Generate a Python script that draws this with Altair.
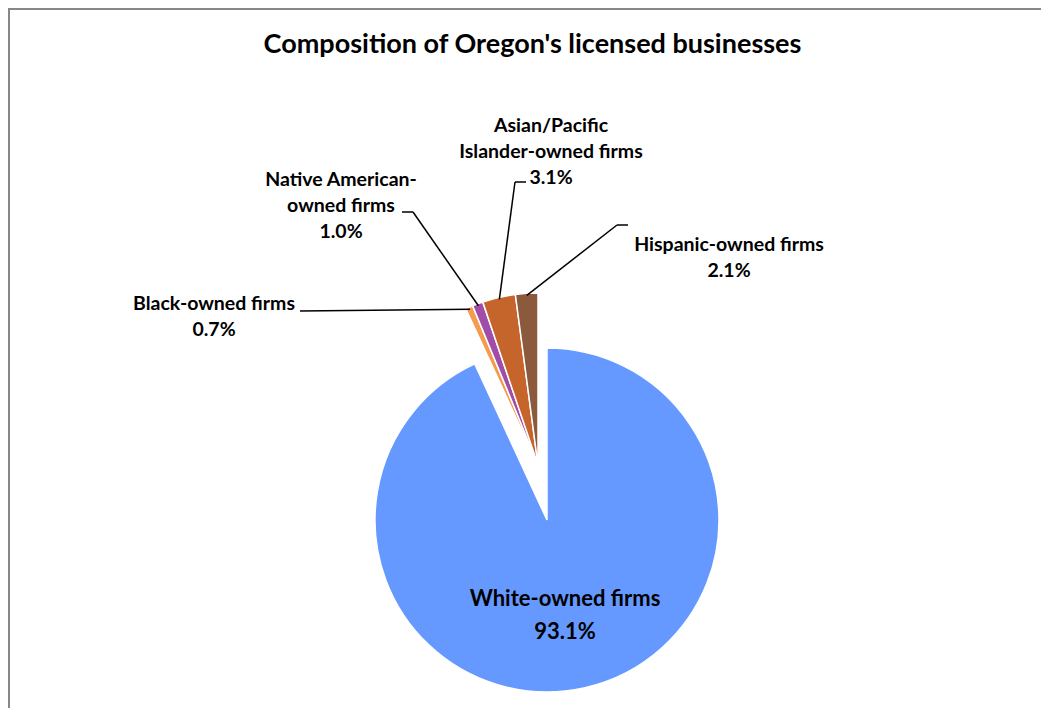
import math
import altair as alt
import pandas as pd

# ---- data ----
categories = [
    "White-owned firms",
    "Black-owned firms",
    "Native American-owned firms",
    "Asian/Pacific Islander-owned firms",
    "Hispanic-owned firms",
]
shares = [93.1, 0.7, 1.0, 3.1, 2.1]
label_lines = [
    "White-owned firms",
    "Black-owned firms",
    "Native American-\nowned firms",
    "Asian/Pacific\nIslander-owned firms",
    "Hispanic-owned firms",
]
exploded = [0, 1, 1, 1, 1]

# ---- style / layout ----
colors = ["#6699FF", "#F59B4F", "#A04CA8", "#C5652B", "#8B5A3C"]
W, H = 1033, 700
PIE_R = 172
CENTER_MAIN = (539, 512)
CENTER_EXPLODED = (530, 457)
LEADER_R = 170
label_x = [557, 206, 333, 543, 721]
label_y = [591, 296, 172, 118, 237]
anchor_x = [0, 292, 394, 518, 620]
anchor_y = [0, 303, 204, 174, 217]
elbow_x = [0, 292, 405, 507, 609]
elbow_y = [0, 303, 204, 174, 217]
FONT = "Lato"

df = pd.DataFrame({
    "category": categories,
    "share": shares,
    "idx": list(range(len(categories))),
    "label": label_lines,
    "exploded": exploded,
    "lx": label_x, "ly": label_y,
    "ax": anchor_x, "ay": anchor_y,
    "bx": elbow_x, "by": elbow_y,
})

base = (
    alt.Chart(df)
    .transform_stack(stack="share", as_=["s0", "s1"], groupby=[],
                     sort=[alt.SortField(field="idx", order="ascending")])
    .transform_calculate(
        cx=f"datum.exploded ? {CENTER_EXPLODED[0]} : {CENTER_MAIN[0]}",
        cy=f"datum.exploded ? {CENTER_EXPLODED[1]} : {CENTER_MAIN[1]}",
        mid="(datum.s0 + datum.s1) / 200 * 2 * PI",
        text="datum.label + '\\n' + format(datum.share, '.1f') + '%'",
    )
    .transform_calculate(
        ex=f"datum.cx + {LEADER_R} * sin(datum.mid)",
        ey=f"datum.cy - {LEADER_R} * cos(datum.mid)",
    )
)

theta_scale = alt.Scale(domain=[0, 100], range=[0, 2 * math.pi])
color = alt.Color("category:N", scale=alt.Scale(domain=categories, range=colors), legend=None)

arcs = base.mark_arc(outerRadius=PIE_R, stroke="white", strokeWidth=1.5).encode(
    theta=alt.Theta("s0:Q", scale=theta_scale),
    theta2="s1:Q",
    color=color,
    x=alt.X("cx:Q", scale=None),
    y=alt.Y("cy:Q", scale=None),
)

leaders = base.transform_filter("datum.exploded == 1")
rule1 = leaders.mark_rule(color="black", strokeWidth=1.5).encode(
    x=alt.X("ax:Q", scale=None), y=alt.Y("ay:Q", scale=None),
    x2="bx:Q", y2="by:Q",
)
rule2 = leaders.mark_rule(color="black", strokeWidth=1.5).encode(
    x=alt.X("bx:Q", scale=None), y=alt.Y("by:Q", scale=None),
    x2="ex:Q", y2="ey:Q",
)

small_text = leaders.mark_text(
    font=FONT, fontWeight="bold", fontSize=19.5, lineBreak="\n", lineHeight=26,
    align="center", baseline="middle", color="black",
).encode(x=alt.X("lx:Q", scale=None), y=alt.Y("ly:Q", scale=None), text="text:N")

main_text = base.transform_filter("datum.exploded == 0").mark_text(
    font=FONT, fontWeight="bold", fontSize=22, lineBreak="\n", lineHeight=33,
    align="center", baseline="middle", color="black",
).encode(x=alt.X("lx:Q", scale=None), y=alt.Y("ly:Q", scale=None), text="text:N")

frame_data = alt.Data(values=[{"k": 1}])
left_edge = alt.Chart(frame_data).mark_rule(color="#878787", strokeWidth=2).encode(
    x=alt.value(1), y=alt.value(0), y2=alt.value(H))
top_edge = alt.Chart(frame_data).mark_rule(color="#878787", strokeWidth=2).encode(
    x=alt.value(0), x2=alt.value(W), y=alt.value(1))

chart = (
    alt.layer(arcs, rule1, rule2, small_text, main_text, left_edge, top_edge)
    .properties(
        width=W, height=H,
        autosize=alt.AutoSizeParams(type="none"),
        padding=0,
        title=alt.TitleParams(
            "Composition of Oregon's licensed businesses",
            font=FONT, fontSize=27, fontWeight="bold", color="black",
            anchor="middle", offset=-52, dx=8,
        ),
    )
    .configure_view(stroke=None)
)

chart.save("out.html", embed_options={"renderer": "svg", "actions": False})
